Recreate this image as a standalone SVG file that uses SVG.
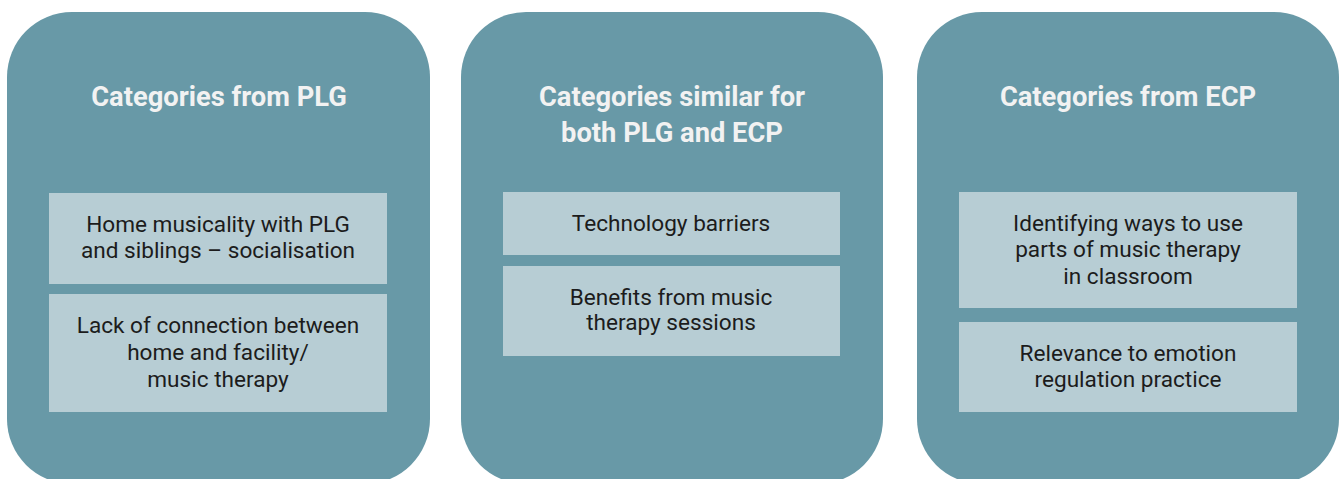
<svg xmlns="http://www.w3.org/2000/svg" width="1341" height="479" viewBox="0 0 1341 479">
  <style>
    .panel { fill: #6899a7; }
    .box { fill: #b7cdd4; }
    .title { font-family: Roboto, "Liberation Sans", sans-serif; font-weight: bold; font-size: 27.3px; fill: #f2f2f2; text-anchor: middle; }
    .label { font-family: Roboto, "Liberation Sans", sans-serif; font-size: 22.6px; fill: #1c1c1c; text-anchor: middle; }
  </style>
  <rect width="1341" height="479" fill="#ffffff"/>

  <g id="plg">
    <rect class="panel" x="7" y="12" width="423" height="472" rx="65" ry="65"/>
    <text class="title" x="219" y="105.5">Categories from PLG</text>
    <g id="plg-home">
      <rect class="box" x="49" y="193" width="338" height="91"/>
      <text class="label" x="218" y="232">Home musicality with PLG</text>
      <text class="label" x="218" y="258">and siblings – socialisation</text>
    </g>
    <g id="plg-connection">
      <rect class="box" x="49" y="294" width="338" height="118"/>
      <text class="label" x="218" y="333">Lack of connection between</text>
      <text class="label" x="218" y="360">home and facility/</text>
      <text class="label" x="218" y="387">music therapy</text>
    </g>
  </g>

  <g id="both">
    <rect class="panel" x="461" y="12" width="422" height="472" rx="65" ry="65"/>
    <text class="title" x="672" y="105.5">Categories similar for</text>
    <text class="title" x="672" y="142">both PLG and ECP</text>
    <g id="both-technology">
      <rect class="box" x="503" y="192" width="337" height="63"/>
      <text class="label" x="671" y="231">Technology barriers</text>
    </g>
    <g id="both-benefits">
      <rect class="box" x="503" y="266" width="337" height="90"/>
      <text class="label" x="671" y="305">Benefits from music</text>
      <text class="label" x="671" y="330">therapy sessions</text>
    </g>
  </g>

  <g id="ecp">
    <rect class="panel" x="917" y="12" width="422" height="472" rx="65" ry="65"/>
    <text class="title" x="1128" y="105.5">Categories from ECP</text>
    <g id="ecp-classroom">
      <rect class="box" x="959" y="192" width="338" height="116"/>
      <text class="label" x="1128" y="231">Identifying ways to use</text>
      <text class="label" x="1128" y="257">parts of music therapy</text>
      <text class="label" x="1128" y="284">in classroom</text>
    </g>
    <g id="ecp-emotion">
      <rect class="box" x="959" y="322" width="338" height="90"/>
      <text class="label" x="1128" y="361">Relevance to emotion</text>
      <text class="label" x="1128" y="387">regulation practice</text>
    </g>
  </g>

  <g id="connectors"/>
</svg>
